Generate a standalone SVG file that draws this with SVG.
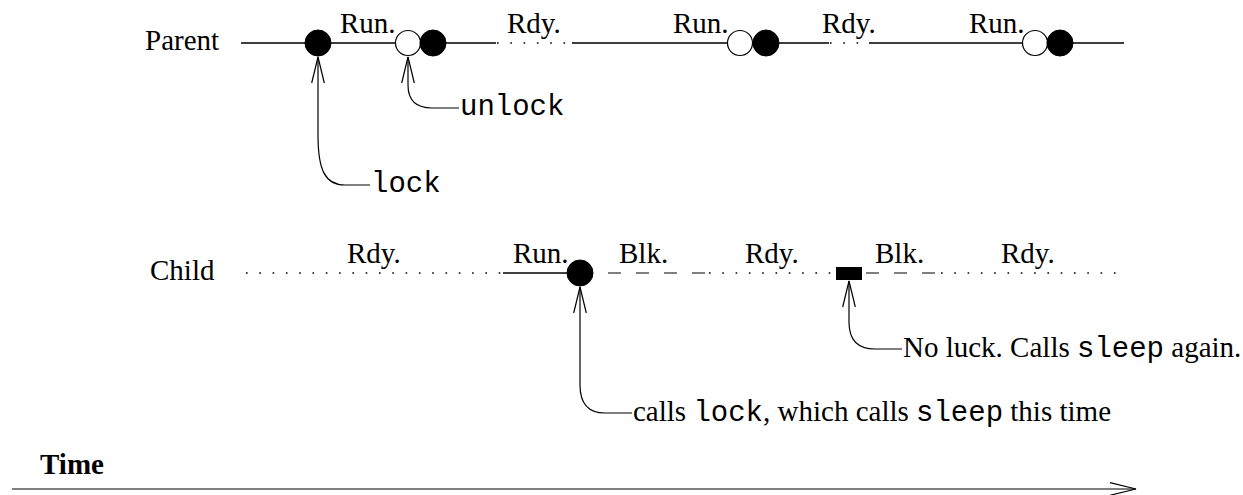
<svg xmlns="http://www.w3.org/2000/svg" width="1243" height="495" viewBox="0 0 1243 495">
<style>
text{font-family:"Liberation Serif","Times New Roman",serif;font-size:29px;fill:#000}
.mono{font-family:"Liberation Mono","Courier New",monospace}
.b{font-weight:bold}
.ln{stroke:#000;stroke-width:1.4;fill:none}
.dot{stroke:#000;stroke-width:1.6;fill:none;stroke-dasharray:1.6 11.7}
.dash{stroke:#555;stroke-width:1.4;fill:none;stroke-dasharray:13 15}
.fc{fill:#000;stroke:#000;stroke-width:1}
.oc{fill:#fff;stroke:#000;stroke-width:1.2}
.arr{stroke:#000;stroke-width:1.2;fill:none}
</style>
<defs>
<marker id="v" markerUnits="userSpaceOnUse" markerWidth="30" markerHeight="16" viewBox="-28 -8 30 16" refX="0" refY="0" orient="auto-start-reverse">
<path d="M-26,-6.3 L0,0 L-26,6.3" fill="none" stroke="#000" stroke-width="1.2"/>
</marker>
</defs>
<g id="parent">
<text x="145" y="50">Parent</text>
<path class="ln" d="M241,43 H305 M331,43 H395 M446,43 H496 M572,43 H727 M779,43 H829 M869,43 H1022 M1073,43 H1124"/>
<path class="dot" d="M497,43 H572 M830,43 H869"/>
<circle class="fc" cx="318" cy="43" r="13"/>
<circle class="oc" cx="408" cy="43" r="12.5"/>
<circle class="fc" cx="433" cy="43" r="13"/>
<circle class="oc" cx="740" cy="43" r="12.5"/>
<circle class="fc" cx="766" cy="43" r="13"/>
<circle class="oc" cx="1035" cy="43" r="12.5"/>
<circle class="fc" cx="1060" cy="43" r="13"/>
<text x="340" y="33">Run.</text>
<text x="507" y="33">Rdy.</text>
<text x="673" y="33">Run.</text>
<text x="822" y="33">Rdy.</text>
<text x="969" y="33">Run.</text>
</g>
<g id="child">
<text x="150" y="280">Child</text>
<path class="dot" d="M246,273 H503 M709,273 H836 M941,273 H1120"/>
<path class="ln" d="M503,273 H567"/>
<path class="dash" d="M608,273 H708 M866,273 H940"/>
<circle class="fc" cx="580" cy="273" r="13"/>
<rect x="836" y="267" width="26" height="13" fill="#000"/>
<text x="347" y="263">Rdy.</text>
<text x="513" y="263">Run.</text>
<text x="619" y="263">Blk.</text>
<text x="745" y="263">Rdy.</text>
<text x="875" y="263">Blk.</text>
<text x="1001" y="263">Rdy.</text>
</g>
<g id="connectors">
<path class="arr" marker-start="url(#v)" d="M318,57 L318,135 C318,170 325,185 345,185 L370,185"/>
<path class="arr" marker-start="url(#v)" d="M408,57 L408,85 C408,100 415,108 432,108 L459,108"/>
<path class="arr" marker-start="url(#v)" d="M580,287 L580,385 C580,405 590,413 605,413 L632,413"/>
<path class="arr" marker-start="url(#v)" d="M849,281 L849,322 C849,340 858,349 875,349 L902,349"/>
<path class="arr" marker-end="url(#v)" d="M12,489 H1136"/>
</g>
<g id="lock-label"><text class="mono" x="371" y="192">lock</text></g>
<g id="unlock-label"><text class="mono" x="460" y="115">unlock</text></g>
<g id="calls-label"><text x="633" y="421">calls <tspan class="mono">lock</tspan>, which calls <tspan class="mono">sleep</tspan> this time</text></g>
<g id="noluck-label"><text x="903" y="357">No luck. Calls <tspan class="mono">sleep</tspan> again.</text></g>
<g id="time-label"><text class="b" x="40" y="474">Time</text></g>
</svg>
